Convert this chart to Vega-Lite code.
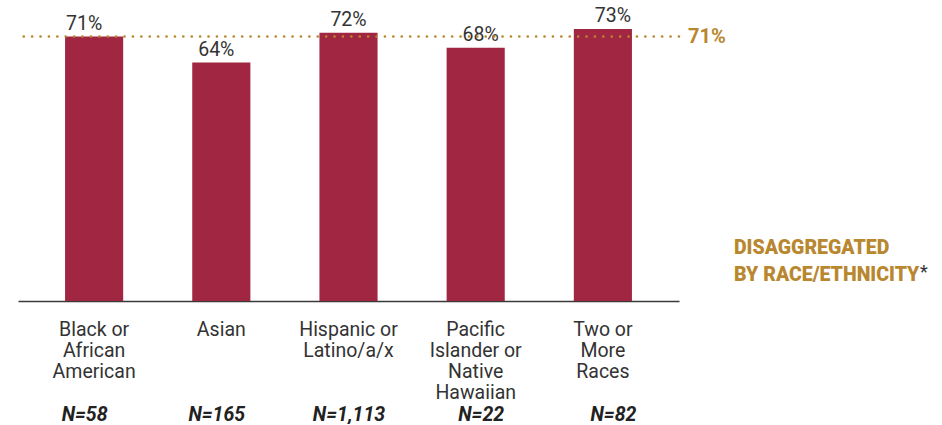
{
  "$schema": "https://vega.github.io/schema/vega-lite/v6.json",
  "width": 661,
  "height": 298,
  "padding": {"left": 16, "top": 3, "right": 0, "bottom": 0},
  "autosize": {"type": "pad"},
  "background": "white",
  "config": {"view": {"stroke": null}, "font": "Roboto"},
  "data": {
    "values": [
      {"group": "Black or|African|American", "n": "N=58", "pct": 0.71},
      {"group": "Asian", "n": "N=165", "pct": 0.64},
      {"group": "Hispanic or|Latino/a/x", "n": "N=1,113", "pct": 0.72},
      {"group": "Pacific|Islander or|Native|Hawaiian", "n": "N=22", "pct": 0.68},
      {"group": "Two or|More|Races", "n": "N=82", "pct": 0.73}
    ]
  },
  "resolve": {"scale": {"x": "independent"}, "axis": {"x": "independent"}},
  "layer": [
    {
      "mark": {"type": "bar", "color": "#A02641"},
      "encoding": {
        "x": {
          "field": "group", "type": "nominal", "sort": null,
          "scale": {"paddingInner": 0.543, "paddingOuter": 0.37},
          "axis": {
            "title": null, "orient": "bottom", "labelAngle": 0,
            "labelExpr": "split(datum.value, '|')",
            "labelFontSize": 19.5, "labelColor": "#333333", "labelPadding": 19,
            "labelLineHeight": 21, "labelBaseline": "top",
            "ticks": false, "domainColor": "#3a3a3a", "domainWidth": 1.6
          }
        },
        "y": {"field": "pct", "type": "quantitative", "scale": {"domain": [0, 0.8]}, "axis": null}
      }
    },
    {
      "mark": {"type": "text", "baseline": "bottom", "dy": -3, "fontSize": 19.5, "color": "#333333"},
      "encoding": {
        "x": {
          "field": "n", "type": "nominal", "sort": null,
          "scale": {"paddingInner": 0.543, "paddingOuter": 0.37},
          "axis": {
            "title": null, "orient": "bottom", "labelAngle": 0,
            "labelFontSize": 19.5, "labelFontStyle": "italic", "labelFontWeight": "bold",
            "labelColor": "#222222", "labelPadding": 104, "labelBaseline": "top",
            "ticks": false, "domain": false
          }
        },
        "y": {"field": "pct", "type": "quantitative"},
        "text": {"field": "pct", "type": "quantitative", "format": ".0%"}
      }
    },
    {
      "data": {"values": [{"avg": 0.71}]},
      "mark": {"type": "rule", "color": "#B8872F", "strokeWidth": 2.6, "strokeCap": "round", "strokeDash": [0.1, 8.3]},
      "encoding": {"y": {"field": "avg", "type": "quantitative"}}
    },
    {
      "data": {"values": [{"avg": 0.71}]},
      "mark": {"type": "text", "align": "left", "baseline": "middle", "dx": 9, "fontSize": 20, "fontWeight": "bold", "color": "#B8872F"},
      "encoding": {
        "x": {"value": "width"},
        "y": {"field": "avg", "type": "quantitative"},
        "text": {"field": "avg", "type": "quantitative", "format": ".0%"}
      }
    },
    {
      "data": {"values": [{"note": "DISAGGREGATED|BY RACE/ETHNICITY"}]},
      "mark": {"type": "text", "align": "left", "baseline": "middle", "dx": 55, "lineBreak": "|", "lineHeight": 27, "fontSize": 19.5, "fontWeight": 900, "color": "#B8872F"},
      "encoding": {
        "x": {"value": "width"},
        "y": {"datum": 0.142},
        "text": {"field": "note"}
      }
    },
    {
      "data": {"values": [{"mark": "*"}]},
      "mark": {"type": "text", "align": "left", "baseline": "middle", "dx": 241, "dy": -2, "fontSize": 18, "color": "#333333"},
      "encoding": {
        "x": {"value": "width"},
        "y": {"datum": 0.07},
        "text": {"field": "mark"}
      }
    }
  ]
}
